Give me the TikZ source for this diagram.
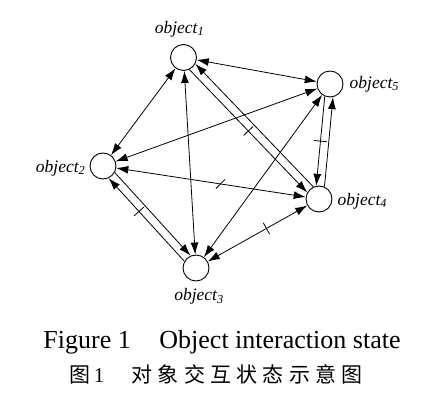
\documentclass[tikz,border=0pt]{standalone}
\usepackage{fontspec}
\setmainfont{Liberation Serif}
\newfontfamily\cjkfont[LetterSpace=25]{Noto Sans CJK SC}
\usepackage{tikz}
\usetikzlibrary{arrows.meta,positioning}
\tikzset{
  obj/.style={draw=black, circle, minimum size=26pt, inner sep=0pt, line width=0.9pt},
  lbl/.style={font=\fontsize{17.5}{20}\selectfont\itshape, inner sep=0pt},
  arr/.style={-{Latex[length=12pt,width=8pt]}, line width=0.8pt},
  darr/.style={{Latex[length=12pt,width=8pt]}-{Latex[length=12pt,width=8pt]}, line width=0.8pt},
  tickmark/.style={draw=black, sloped, minimum width=0pt, minimum height=13pt, inner sep=0pt, line width=0.8pt},
  caption/.style={font=\fontsize{26}{30}\selectfont, inner sep=0pt}
}
\begin{document}
\begin{tikzpicture}[x=1pt, y=1pt]
  \path[fill=white, use as bounding box] (0,0) rectangle (442,418);

  \node[obj] (o1) at (183.5,360.5) {};
  \node[obj] (o5) at (330,334) {};
  \node[obj] (o2) at (103,252) {};
  \node[obj] (o4) at (319,219) {};
  \node[obj] (o3) at (196,150) {};

  \node[lbl, above=7pt of o1, xshift=-4pt] (l1) {object\textsubscript{1}};
  \node[lbl, right=6pt of o5] (l5) {object\textsubscript{5}};
  \node[lbl, left=4pt of o2, yshift=-2pt] (l2) {object\textsubscript{2}};
  \node[lbl, right=5pt of o4, yshift=-2pt] (l4) {object\textsubscript{4}};
  \node[lbl, below=7pt of o3, xshift=3pt] (l3) {object\textsubscript{3}};

  \draw[darr] (o1) -- (o5);
  \draw[darr] (o1) -- (o2);
  \draw[darr] (o1) -- (o3);
  \draw[arr] (o4.115.8) -- (o1.-28.2);
  \draw[arr] (o1.-64.2) -- (o4.151.8) node[tickmark, pos=0.5] {};
  \draw[darr] (o2) -- (o5);
  \draw[darr] (o2) -- (o4) node[tickmark, pos=0.55, rotate=-36] {};
  \draw[arr] (o3.150.4) -- (o2.-65.6) node[tickmark, pos=0.6] {};
  \draw[arr] (o2.-29.6) -- (o3.114.4);
  \draw[darr] (o3) -- (o5);
  \draw[darr] (o3) -- (o4) node[tickmark, pos=0.59] {};
  \draw[arr] (o4.66.5) -- (o5.-77.5);
  \draw[arr] (o5.-113.5) -- (o4.102.5) node[tickmark, pos=0.5] {};

  \node[caption, anchor=base] (cap1) at (222,70) {Figure 1\hspace{1.1em}Object interaction state};
  \node[caption, font=\fontsize{21}{24}\cjkfont, below=11pt of cap1, xshift=-6pt] (cap2) {图\,{\rmfamily 1}\hspace{1.3em}对象交互状态示意图};
\end{tikzpicture}
\end{document}
